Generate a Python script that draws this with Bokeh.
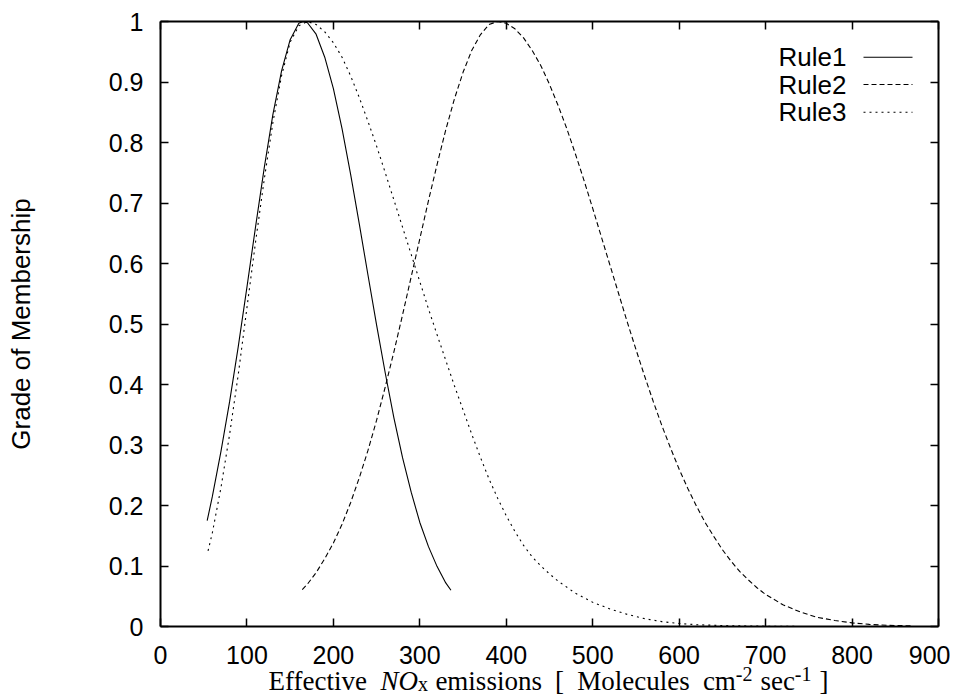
from bokeh.plotting import figure
from bokeh.models import Range1d, LinearAxis, FixedTicker, NumeralTickFormatter, Label, CustomJSTickFormatter
from bokeh.embed import file_html
from bokeh.resources import INLINE

# ---------------- data ----------------
rule1_x = [54, 60, 70, 80, 90, 100, 110, 120, 130, 140, 150, 160, 165, 170, 180, 190, 200,
           210, 220, 230, 240, 250, 260, 270, 280, 290, 300, 310, 320, 330, 336]
rule1_y = [0.175, 0.215, 0.290, 0.372, 0.463, 0.561, 0.661, 0.758, 0.846, 0.918, 0.970, 0.997,
           1.000, 0.998, 0.979, 0.941, 0.889, 0.823, 0.747, 0.665, 0.581, 0.498, 0.419, 0.345,
           0.279, 0.222, 0.172, 0.132, 0.099, 0.072, 0.060]

rule2_x = [164, 170, 180, 190, 200, 210, 220, 230, 240, 250, 260, 270, 280, 290, 300, 310, 320,
           330, 340, 350, 360, 370, 380, 390, 400, 410, 420, 430, 440, 450, 460, 470, 480, 490,
           500, 510, 520, 530, 540, 550, 560, 570, 580, 590, 600, 610, 620, 630, 640, 650, 660,
           670, 680, 690, 700, 720, 740, 760, 780, 800, 820, 840, 870]
rule2_y = [0.061, 0.070, 0.089, 0.112, 0.138, 0.169, 0.205, 0.246, 0.291, 0.341, 0.396, 0.454,
           0.515, 0.578, 0.641, 0.704, 0.764, 0.821, 0.872, 0.916, 0.952, 0.978, 0.995, 1.000,
           0.997, 0.988, 0.973, 0.952, 0.927, 0.896, 0.861, 0.823, 0.781, 0.737, 0.691, 0.644,
           0.597, 0.550, 0.503, 0.458, 0.414, 0.372, 0.332, 0.295, 0.260, 0.228, 0.199, 0.172,
           0.149, 0.127, 0.108, 0.091, 0.077, 0.064, 0.053, 0.036, 0.024, 0.015, 0.010, 0.006,
           0.0035, 0.002, 0.001]

rule3_x = [55, 60, 70, 80, 90, 100, 110, 120, 130, 140, 150, 160, 170, 180, 190, 200, 210, 220,
           230, 240, 250, 260, 270, 280, 290, 300, 310, 320, 330, 340, 350, 360, 370, 380, 390,
           400, 410, 420, 430, 440, 450, 460, 480, 500, 520, 540, 560, 580, 600, 620, 650, 700,
           750, 870]
rule3_y = [0.125, 0.155, 0.230, 0.318, 0.417, 0.527, 0.636, 0.739, 0.833, 0.910, 0.966, 0.993,
           1.000, 0.995, 0.983, 0.965, 0.941, 0.910, 0.874, 0.835, 0.794, 0.750, 0.705, 0.660,
           0.615, 0.570, 0.525, 0.482, 0.440, 0.398, 0.358, 0.318, 0.280, 0.244, 0.212, 0.183,
           0.157, 0.134, 0.115, 0.100, 0.087, 0.075, 0.055, 0.040, 0.029, 0.020, 0.013, 0.008,
           0.005, 0.003, 0.0015, 0.0005, 0.0, 0.0]

series_names = ["Rule1", "Rule2", "Rule3"]
x_ticks = [0, 100, 200, 300, 400, 500, 600, 700, 800, 900]
y_ticks = [0, 0.1, 0.2, 0.3, 0.4, 0.5, 0.6, 0.7, 0.8, 0.9, 1.0]
y_title = "Grade of Membership"

# ---------------- layout constants (picture pixels of the reference) ----------------
AX_L, AX_R, AX_T, AX_B = 160.0, 938.0, 21.0, 626.0   # the plot box
XMIN, XMAX, YMIN, YMAX = 0.0, 900.0, 0.0, 1.0
W, H = 950, 696


def dx(px):
    return XMIN + (px - AX_L) * (XMAX - XMIN) / (AX_R - AX_L)


def dy(py):
    return YMIN + (AX_B - py) * (YMAX - YMIN) / (AX_B - AX_T)


# The data frame covers the whole canvas; the four axes are pinned to the box
# (fixed_location) so that all titles can be drawn as real text labels.
p = figure(width=W, height=H, x_range=Range1d(dx(0), dx(W)), y_range=Range1d(dy(H), dy(0)),
           output_backend="svg", toolbar_location=None,
           min_border_left=0, min_border_right=0, min_border_top=0, min_border_bottom=0)
p.xgrid.visible = False
p.ygrid.visible = False
p.outline_line_color = None
p.background_fill_color = "white"
p.border_fill_color = "white"

TICK_FONT = "Liberation Sans"
blank = CustomJSTickFormatter(code="return '';")


def style_axis(ax, labels=True):
    ax.axis_line_color = "black"
    ax.axis_line_width = 2
    ax.major_tick_in = 8
    ax.major_tick_out = 0
    ax.major_tick_line_color = "black"
    ax.major_tick_line_width = 1.5
    ax.minor_tick_line_color = None
    if labels:
        ax.major_label_text_font = TICK_FONT
        ax.major_label_text_font_size = "25px"
        ax.major_label_text_color = "black"
    else:
        ax.formatter = blank
        ax.major_label_standoff = 0


xax = p.xaxis[0]
yax = p.yaxis[0]
xax.ticker = FixedTicker(ticks=x_ticks)
yax.ticker = FixedTicker(ticks=y_ticks)
xax.formatter = NumeralTickFormatter(format="0")
yax.formatter = NumeralTickFormatter(format="0.[0]")
style_axis(xax)
style_axis(yax)
xax.fixed_location = YMIN
yax.fixed_location = XMIN
xax.bounds = (XMIN, XMAX)
yax.bounds = (YMIN, YMAX)
xax.major_label_standoff = 19
yax.major_label_standoff = 17

yax.axis_label = y_title
yax.axis_label_text_font = TICK_FONT
yax.axis_label_text_font_size = "26px"
yax.axis_label_text_font_style = "normal"
yax.axis_label_text_color = "black"
yax.axis_label_standoff = 70

top_ax = LinearAxis(ticker=FixedTicker(ticks=x_ticks), fixed_location=YMAX, bounds=(XMIN, XMAX))
style_axis(top_ax, labels=False)
p.add_layout(top_ax, "above")
right_ax = LinearAxis(ticker=FixedTicker(ticks=y_ticks), fixed_location=XMAX, bounds=(YMIN, YMAX))
style_axis(right_ax, labels=False)
p.add_layout(right_ax, "right")

# ---------------- curves ----------------
dashes = ["solid", "5 3", "2 4"]
xs = [rule1_x, rule2_x, rule3_x]
ys = [rule1_y, rule2_y, rule3_y]
for name, x, y, dsh in zip(series_names, xs, ys, dashes):
    p.line(x, y, line_color="black", line_width=1.1, line_dash=dsh)

# ---------------- legend (text left, sample right, like gnuplot) ----------------
leg_rows_py = [56.7, 84.0, 111.7]
for name, py, dsh in zip(series_names, leg_rows_py, dashes):
    p.add_layout(Label(x=dx(846), y=dy(py), text=name, text_align="right",
                       text_baseline="middle", text_font=TICK_FONT,
                       text_font_size="26px", text_color="black"))
    p.segment(x0=[dx(863)], x1=[dx(912)], y0=[dy(py)], y1=[dy(py)],
              line_color="black", line_width=1.1, line_dash=dsh)

# ---------------- x axis title with italic / sub / superscripts ----------------
SERIF = "Liberation Serif"
EM = 26.9
START = 268.0
MID = 680.5
pieces = [
    # text, em position, style, size, vertical shift of the text middle (px, + = down)
    ("Effective", 0.0, "normal", "27px", 0),
    ("NO", 4.165, "italic", "27px", 0),
    ("x", 5.554, "normal", "20px", 3),
    ("emissions", 6.204, "normal", "27px", 0),
    ("[", 10.649, "normal", "27px", 0),
    ("Molecules", 11.482, "normal", "27px", 0),
    ("cm", 16.148, "normal", "27px", 0),
    ("-2", 17.37, "normal", "20px", -7),
    ("sec", 18.286, "normal", "27px", 0),
    ("-1", 19.563, "normal", "20px", -7),
    ("]", 20.479, "normal", "27px", 0),
]
for txt, pos, style, size, shift in pieces:
    p.add_layout(Label(x=dx(START + pos * EM), y=dy(MID + shift), text=txt,
                       text_align="left", text_baseline="middle",
                       text_font=SERIF, text_font_size=size,
                       text_font_style=style, text_color="black"))

open("out.html", "w").write(file_html(p, INLINE))
